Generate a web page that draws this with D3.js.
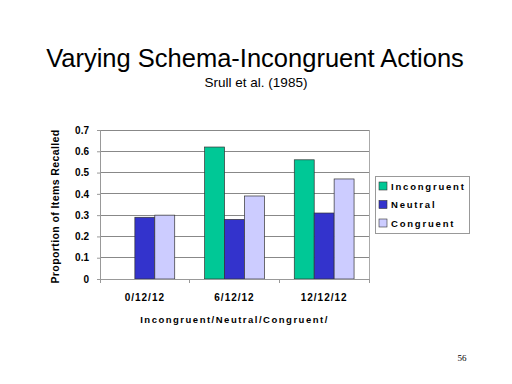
<!DOCTYPE html>
<html><head><meta charset="utf-8">
<script src="https://cdn.jsdelivr.net/npm/d3@7"></script>
<style>body{margin:0;background:#fff}svg{display:block}</style>
</head><body>
<script>
const categories = ["0/12/12", "6/12/12", "12/12/12"];
const seriesNames = ["Incongruent", "Neutral", "Congruent"];
const incongruent = [0, 0.62, 0.56];
const neutral = [0.29, 0.28, 0.31];
const congruent = [0.30, 0.39, 0.47];
const yTicks = [0, 0.1, 0.2, 0.3, 0.4, 0.5, 0.6, 0.7];
const colors = ["#00C896", "#3333CC", "#CCCCFF"];

const values = [incongruent, neutral, congruent];
const W = 512, H = 384;
const svg = d3.select("body").append("svg").attr("width", W).attr("height", H);
const font = "Liberation Sans, Arial, sans-serif";

const L = 100, R = 369, T = 130, B = 279;
const x = d3.scaleBand().domain(categories).range([L, R]).paddingInner(0).paddingOuter(0);
const x1 = d3.scaleBand().domain(seriesNames).range([0, x.bandwidth()]).paddingInner(0).paddingOuter(0.75);
const y = d3.scaleLinear().domain([0, 0.7]).range([B, T]);

// title
svg.append("text").attr("x", 255).attr("y", 67).attr("text-anchor", "middle")
  .attr("font-family", font).attr("font-size", 25.5).attr("fill", "#000")
  .text("Varying Schema-Incongruent Actions");
svg.append("text").attr("x", 256).attr("y", 87).attr("text-anchor", "middle")
  .attr("font-family", font).attr("font-size", 13.5).attr("fill", "#000")
  .text("Srull et al. (1985)");

// gridlines
svg.append("g").selectAll("line").data(yTicks.filter(d => d > 0)).join("line")
  .attr("x1", L).attr("x2", R).attr("y1", d => y(d)).attr("y2", d => y(d))
  .attr("stroke", "#888").attr("stroke-width", 1).attr("shape-rendering", "crispEdges");
// right frame
svg.append("line").attr("x1", R).attr("x2", R).attr("y1", T).attr("y2", B)
  .attr("stroke", "#aaa").attr("shape-rendering", "crispEdges");

// y axis
const yAxis = d3.axisLeft(y).tickValues(yTicks).tickSize(3).tickFormat(d => d === 0 ? "0" : d3.format(".1f")(d));
const gy = svg.append("g").attr("transform", `translate(${L},0)`).call(yAxis);
gy.select(".domain").attr("stroke", "#999");
gy.selectAll(".tick line").attr("stroke", "#999");
gy.selectAll("text").attr("font-family", font).attr("font-size", 10).attr("font-weight", "bold")
  .attr("fill", "#000").attr("x", -11);

// bars
const groups = svg.append("g").selectAll("g").data(categories).join("g")
  .attr("transform", d => `translate(${x(d)},0)`);
groups.selectAll("rect").data((d, i) => seriesNames.map((s, j) => ({s, j, v: values[j][i]})))
  .join("rect")
  .filter(d => d.v > 0)
  .attr("x", d => x1(d.s)).attr("width", x1.bandwidth())
  .attr("y", d => y(d.v)).attr("height", d => y(0) - y(d.v))
  .attr("fill", d => colors[d.j]).attr("stroke", "#333").attr("stroke-width", 0.7);

// x axis
const xAxis = d3.axisBottom(x).tickSize(0);
const gx = svg.append("g").attr("transform", `translate(0,${B})`).call(xAxis);
gx.select(".domain").attr("stroke", "#999");
gx.selectAll("text").attr("font-family", font).attr("font-size", 10).attr("font-weight", "bold")
  .attr("fill", "#000").attr("dy", 0).attr("y", 22).attr("letter-spacing", 1);
const bounds = [L, ...categories.map(c => x(c) + x.bandwidth())];
svg.append("g").selectAll("line").data(bounds).join("line")
  .attr("x1", d => d).attr("x2", d => d).attr("y1", B).attr("y2", B + 4)
  .attr("stroke", "#999").attr("shape-rendering", "crispEdges");

svg.append("text").attr("x", (L + R) / 2).attr("y", 323).attr("text-anchor", "middle")
  .attr("font-family", font).attr("font-size", 9.5).attr("font-weight", "bold")
  .attr("letter-spacing", 1.5).text("Incongruent/Neutral/Congruent/");

svg.append("text").attr("transform", `translate(59,${(T + B) / 2 + 2}) rotate(-90)`)
  .attr("text-anchor", "middle").attr("font-family", font).attr("font-size", 10.5)
  .attr("font-weight", "bold").attr("letter-spacing", 0.4).text("Proportion of Items Recalled");

// legend
const lg = svg.append("g").attr("transform", "translate(375,176)");
lg.append("rect").attr("width", 94).attr("height", 57).attr("fill", "#fff")
  .attr("stroke", "#999").attr("shape-rendering", "crispEdges");
const li = lg.selectAll("g").data(seriesNames).join("g")
  .attr("transform", (d, i) => `translate(4,${10 + i * 18.5})`);
li.append("rect").attr("x", 0).attr("y", -4).attr("width", 8).attr("height", 8)
  .attr("fill", (d, i) => colors[i]).attr("stroke", "#333").attr("stroke-width", 0.6);
li.append("text").attr("x", 12).attr("y", 3.5).attr("font-family", font).attr("font-size", 9.5)
  .attr("font-weight", "bold").attr("letter-spacing", 1.8).text(d => d);

svg.append("text").attr("x", 462).attr("y", 361).attr("text-anchor", "middle")
  .attr("font-family", "Liberation Serif, Times New Roman, serif").attr("font-size", 9).text("56");
</script>
</body></html>
